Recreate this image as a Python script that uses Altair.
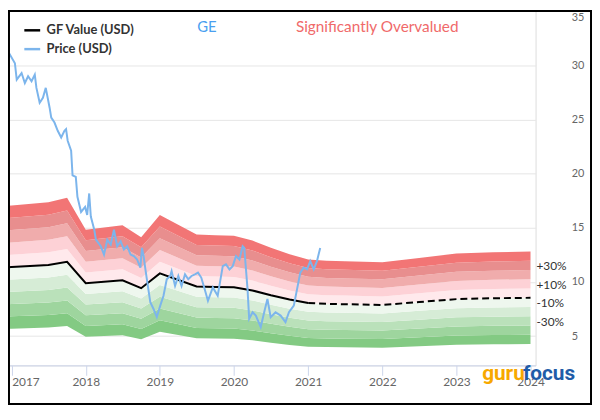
import altair as alt
import pandas as pd

# ---------------- data ----------------
ticker = "GE"
verdict = "Significantly Overvalued"
logo_left = "guru"
logo_right = "focus"

gf_dates = ["2016-10-01", "2017-01-01", "2017-07-01", "2017-10-01", "2018-01-01",
            "2018-07-01", "2018-10-01", "2019-01-01", "2019-07-01", "2019-10-01",
            "2020-01-01", "2020-04-01", "2020-07-01", "2020-10-01", "2021-01-01",
            "2021-04-01", "2021-07-01", "2022-01-01", "2022-07-01", "2023-01-01",
            "2023-07-01", "2024-01-01"]
gf_values = [11.28, 11.38, 11.58, 11.86, 9.89,
             10.16, 9.43, 10.80, 9.59, 9.55,
             9.52, 9.22, 8.78, 8.38, 8.06,
             7.98, 7.95, 7.88, 8.15, 8.42,
             8.50, 8.54]
projection_start = "2021-01-01"

price_dates = [
    "2016-11-05", "2016-11-13", "2016-11-29", "2016-12-24", "2017-01-17", "2017-01-26",
    "2017-02-19", "2017-03-07", "2017-03-23", "2017-04-09", "2017-04-25", "2017-05-03",
    "2017-05-19", "2017-06-04", "2017-06-18", "2017-07-07", "2017-07-15", "2017-07-31",
    "2017-08-16", "2017-09-02", "2017-09-18", "2017-09-26", "2017-10-04", "2017-10-21",
    "2017-10-28", "2017-11-13", "2017-11-21", "2017-12-09", "2017-12-29", "2018-01-08",
    "2018-01-18", "2018-01-26", "2018-02-12", "2018-02-20", "2018-03-16", "2018-04-01",
    "2018-04-17", "2018-05-04", "2018-05-20", "2018-06-05", "2018-06-22", "2018-07-08",
    "2018-07-24", "2018-08-10", "2018-08-26", "2018-09-11", "2018-09-27", "2018-10-05",
    "2018-10-13", "2018-10-22", "2018-10-29", "2018-11-15", "2018-12-01", "2018-12-17",
    "2019-01-03", "2019-01-19", "2019-02-04", "2019-02-21", "2019-02-28", "2019-03-17",
    "2019-04-02", "2019-04-18", "2019-05-05", "2019-05-21", "2019-06-06", "2019-06-23",
    "2019-07-08", "2019-07-24", "2019-08-10", "2019-08-26", "2019-09-19", "2019-10-13",
    "2019-11-07", "2019-11-23", "2019-12-10", "2019-12-26", "2020-01-11", "2020-01-28",
    "2020-02-13", "2020-02-21", "2020-03-08", "2020-03-16", "2020-04-02", "2020-04-18",
    "2020-05-12", "2020-05-29", "2020-06-14", "2020-06-30", "2020-07-24", "2020-08-18",
    "2020-09-11", "2020-09-28", "2020-10-22", "2020-11-07", "2020-11-23", "2020-12-10",
    "2020-12-26", "2021-01-11", "2021-01-28", "2021-02-13", "2021-03-01"]
price_values = [
    27.32, 29.45, 30.06, 30.98, 30.21, 28.69,
    29.30, 28.38, 29.00, 28.54, 29.15, 27.93,
    26.55, 27.01, 27.93, 26.10, 25.18, 24.73,
    23.97, 23.35, 23.97, 24.12, 23.05, 22.14,
    19.85, 19.70, 17.87, 16.47, 16.93, 16.20,
    18.18, 16.04, 14.83, 13.91, 13.30, 12.54,
    13.91, 13.46, 14.83, 13.30, 13.76, 13.00,
    13.30, 12.54, 12.39, 12.08, 11.33, 13.15,
    12.39, 11.17, 10.26, 8.13, 7.51, 6.76,
    7.82, 8.73, 10.26, 10.56, 11.01, 9.64,
    10.56, 9.64, 10.71, 10.26, 10.56, 10.71,
    10.87, 10.41, 9.34, 8.27, 9.50, 8.73,
    11.47, 11.63, 11.17, 11.47, 12.39, 12.08,
    13.30, 13.15, 9.34, 6.60, 7.21, 6.90,
    5.84, 7.21, 8.43, 6.76, 7.21, 6.90,
    6.30, 7.21, 7.82, 9.34, 10.87, 11.33,
    11.17, 11.93, 11.17, 11.93, 13.15]

# valuation bands: each spans step*10% .. (step+1)*10% around the GF Value
band_steps = [-5, -4, -3, -2, -1, 0, 1, 2, 3, 4]
band_colors = ["#83ca83", "#9ed59e", "#bae1ba", "#d6ecd6", "#eef7ee",
               "#ffe9ec", "#fdd1d6", "#f0acac", "#e88e8e", "#f27575"]

pct_labels = ["+30%", "+10%", "-10%", "-30%"]
pct_mults = [1.3, 1.1, 0.9, 0.7]

year_ticks = [2017, 2018, 2019, 2020, 2021, 2022, 2023, 2024]
y_ticks = [5, 10, 15, 20, 25, 30, 35]

series_names = ["GF Value (USD)", "Price (USD)"]
series_colors = ["#000000", "#7cb5ec"]

# ---------------- tables ----------------
gf = pd.DataFrame({"date": pd.to_datetime(gf_dates), "value": gf_values,
                   "series": series_names[0]})
split = pd.Timestamp(projection_start)
gf_actual = gf[gf["date"] <= split]
gf_proj = gf[gf["date"] >= split]

price = pd.DataFrame({"date": pd.to_datetime(price_dates), "value": price_values,
                      "series": series_names[1]})

band_names = [f"b{s}" for s in band_steps]
rows = []
for d, v in zip(gf["date"], gf["value"]):
    for s, n in zip(band_steps, band_names):
        rows.append({"date": d, "band": n, "lo": v * (1 + s / 10), "hi": v * (1 + (s + 1) / 10)})
bands = pd.DataFrame(rows)

last_date = gf["date"].iloc[-1]
last_val = gf["value"].iloc[-1]
pct = pd.DataFrame({"date": [last_date] * len(pct_labels),
                    "value": [last_val * m for m in pct_mults],
                    "label": pct_labels})

# ---------------- scales / axes ----------------
FONT = "Lato"
xscale = alt.Scale(domain=[alt.DateTime(year=2016, month=12, date=14),
                           alt.DateTime(year=2024, month=1, date=26)])
yscale = alt.Scale(domain=[2.3, 35.12], nice=False, zero=False)

xaxis = alt.Axis(values=[alt.DateTime(year=y) for y in year_ticks], format="%Y",
                 grid=False, domainColor="#ccd6eb", tickColor="#ccd6eb", tickSize=10,
                 labelPadding=1, labelColor="#666666", labelFontSize=12, labelFont=FONT,
                 labelFlush=False, labelOverlap=False, title=None,
                 labelAlign={"condition": {"test": "year(datum.value) == 2017",
                                           "value": "left"}, "value": "center"})
yaxis = alt.Axis(orient="right", values=y_ticks, grid=True, gridColor="#e6e6e6",
                 domain=False, ticks=False, labelPadding=36, labelColor="#666666",
                 labelFontSize=11, labelFont=FONT, title=None,
                 labelBaseline={"condition": {"test": "datum.value == 35",
                                              "value": "top"}, "value": "middle"})

X = alt.X("date:T", scale=xscale, axis=xaxis)

band_layer = alt.Chart(bands).mark_area(clip=True).encode(
    x=X,
    y=alt.Y("lo:Q", scale=yscale, axis=yaxis, stack=None),
    y2="hi:Q",
    color=alt.Color("band:N", scale=alt.Scale(domain=band_names, range=band_colors),
                    legend=None),
)

line_color_scale = alt.Scale(domain=series_names, range=series_colors)

gf_line = alt.Chart(gf_actual).mark_line(strokeWidth=2, clip=True).encode(
    x="date:T",
    y=alt.Y("value:Q", scale=yscale),
    color=alt.Color("series:N", scale=line_color_scale,
                    legend=alt.Legend(orient="none", legendX=15, legendY=11, title=None,
                                      symbolType="stroke", symbolSize=256,
                                      symbolStrokeWidth=2.5, labelFont=FONT,
                                      labelFontSize=13, labelFontWeight="bold",
                                      labelColor="#333333", labelOffset=5,
                                      rowPadding=2, padding=0)),
)

gf_dash = alt.Chart(gf_proj).mark_line(strokeWidth=2, strokeDash=[7, 4], color="#000000",
                                       clip=True).encode(
    x="date:T", y=alt.Y("value:Q", scale=yscale))

price_line = alt.Chart(price).mark_line(strokeWidth=2, clip=True).encode(
    x="date:T",
    y=alt.Y("value:Q", scale=yscale),
    color=alt.Color("series:N", scale=line_color_scale, legend=None),
)

pct_text = alt.Chart(pct).mark_text(align="left", baseline="alphabetic", dx=6, font=FONT,
                                    fontSize=12, color="#333333").encode(
    x="date:T", y=alt.Y("value:Q", scale=yscale), text="label:N")

one = pd.DataFrame({"ticker": [ticker], "verdict": [verdict],
                    "l": [logo_left], "r": [logo_right]})

ticker_text = alt.Chart(one).mark_text(font=FONT, fontSize=15, color="#4a9ff0",
                                       align="center", baseline="middle").encode(
    x=alt.value(201), y=alt.value(17), text="ticker:N")
verdict_text = alt.Chart(one).mark_text(font=FONT, fontSize=15.5, color="#f06a6a",
                                        align="center", baseline="middle").encode(
    x=alt.value(373), y=alt.value(17), text="verdict:N")

LOGO_FONT = "Roboto"
logo_l = alt.Chart(one).mark_text(font=LOGO_FONT, fontSize=21, fontWeight="bold",
                                  color="#f7a800", align="left",
                                  baseline="alphabetic").encode(
    x=alt.value(479), y=alt.value(374), text="l:N")
logo_r = alt.Chart(one).mark_text(font=LOGO_FONT, fontSize=21, fontWeight="bold",
                                  color="#1f5ca8", align="right",
                                  baseline="alphabetic").encode(
    x=alt.value(573), y=alt.value(374), text="r:N")

frame = alt.Chart(one).mark_rect(filled=False, stroke="#000000", strokeWidth=2).encode(
    x=alt.value(1), x2=alt.value(589), y=alt.value(1), y2=alt.value(398))

chart = alt.layer(
    band_layer, gf_line, gf_dash, price_line, pct_text,
    ticker_text, verdict_text, logo_l, logo_r, frame
).resolve_scale(color="independent").properties(
    width=533, height=359,
    autosize=alt.AutoSizeParams(type="none"),
    padding={"left": 0, "top": 0, "right": 57, "bottom": 41},
).configure_view(stroke="transparent").configure(font=FONT)

chart.save("out.html", embed_options={"renderer": "svg", "actions": False})
